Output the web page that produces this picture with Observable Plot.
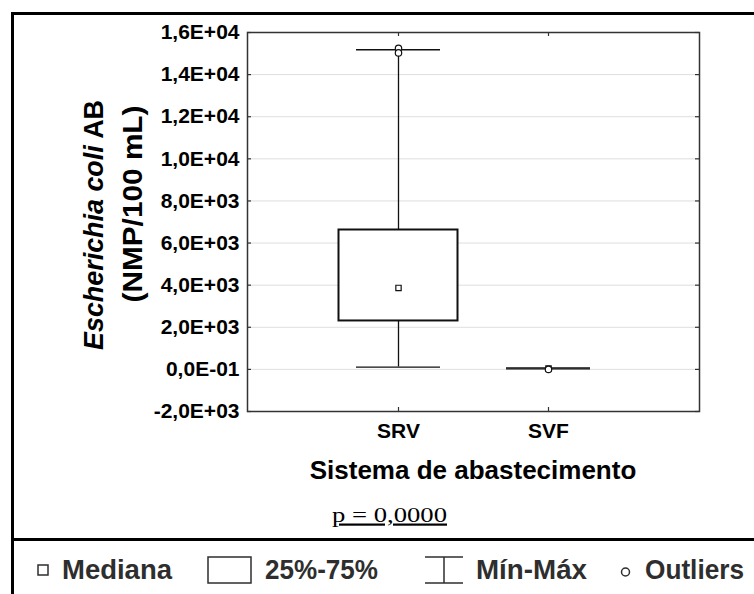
<!DOCTYPE html>
<html>
<head>
<meta charset="utf-8">
<script src="https://cdn.jsdelivr.net/npm/d3@7"></script>
<script src="https://cdn.jsdelivr.net/npm/@observablehq/plot@0.6"></script>
<style>
  html, body { margin: 0; padding: 0; background: #fff; }
  #chart { position: relative; width: 754px; height: 594px; overflow: hidden;
           font-family: "Liberation Sans", Arial, sans-serif; }
  #chart svg { position: absolute; left: 0; }
  .rule { position: absolute; background: #000; z-index: 2; }
</style>
</head>
<body>
<div id="chart">
  <div class="rule" style="left:11px;top:12px;width:743px;height:3px"></div>
  <div class="rule" style="left:11px;top:12px;width:3px;height:582px"></div>
  <div class="rule" style="left:11px;top:538px;width:743px;height:3px"></div>
</div>
<script>
// Water supply systems and the E. coli summary statistics (NMP/100 mL)
const systems   = ["SRV", "SVF"];
const minimum   = [110, 20];
const quartile1 = [2300, 40];
const median    = [3870, 40];
const quartile3 = [6620, 40];
const maximum   = [15180, 70];

// Outlying samples
const outlierSystem = ["SRV", "SRV", "SVF"];
const outlierValue  = [15250, 15030, 0];

// Y axis ticks and their printed labels
const yTicks      = [-2000, 0, 2000, 4000, 6000, 8000, 10000, 12000, 14000, 16000];
const yTickLabels = ["-2,0E+03", "0,0E-01", "2,0E+03", "4,0E+03", "6,0E+03",
                     "8,0E+03", "1,0E+04", "1,2E+04", "1,4E+04", "1,6E+04"];

const xTitle   = "Sistema de abastecimento";
const pCaption = "p = 0,0000";
const legendLabels = ["Mediana", "25%-75%", "Mín-Máx", "Outliers"];

const boxes = systems.map((s, i) => ({
  system: s, min: minimum[i], q1: quartile1[i], median: median[i], q3: quartile3[i], max: maximum[i]
}));
const outliers = outlierSystem.map((s, i) => ({system: s, value: outlierValue[i]}));

const W = 754, H = 536;
const mL = 247, mR = 55, mT = 32, mB = H - 411;
const frameW = W - mL - mR, frameH = H - mT - mB;
const tickLen = 4;
const font = '"Liberation Sans", Arial, sans-serif';

const plot = Plot.plot({
  width: W, height: H,
  marginLeft: mL, marginRight: mR, marginTop: mT, marginBottom: mB,
  style: {fontFamily: font, color: "#000", background: "transparent", overflow: "visible"},
  x: {type: "band", domain: systems, paddingInner: 0, paddingOuter: 0.5, label: null},
  y: {domain: [-2000, 16000], label: null},
  marks: [
    // light horizontal grid
    Plot.ruleY(yTicks.slice(1, -1), {stroke: "#dedede", strokeWidth: 1}),
    // inward tick marks on all four sides of the frame
    Plot.tickY(yTicks, {stroke: "#333", strokeWidth: 1.2, insetRight: frameW - tickLen}),
    Plot.tickY(yTicks, {stroke: "#333", strokeWidth: 1.2, insetLeft: frameW - tickLen}),
    Plot.tickX(systems, {x: d => d, stroke: "#333", strokeWidth: 1.2, insetTop: frameH - tickLen}),
    Plot.tickX(systems, {x: d => d, stroke: "#333", strokeWidth: 1.2, insetBottom: frameH - tickLen}),
    Plot.frame({stroke: "#333", strokeWidth: 1.5}),
    // whiskers (min–max) with caps
    Plot.ruleX(boxes, {x: "system", y1: "min", y2: "max", stroke: "#111", strokeWidth: 1.3}),
    Plot.tickY(boxes, {x: "system", y: "min", stroke: "#111", strokeWidth: 1.3, insetLeft: 33, insetRight: 33}),
    Plot.tickY(boxes, {x: "system", y: "max", stroke: "#111", strokeWidth: 1.3, insetLeft: 33, insetRight: 33}),
    // interquartile box
    Plot.barY(boxes.filter(d => d.q3 > d.q1), {
      x: "system", y1: "q1", y2: "q3", fill: "white", stroke: "#111", strokeWidth: 2,
      insetLeft: 15.5, insetRight: 15.5
    }),
    // median marker
    Plot.dot(boxes, {x: "system", y: "median", symbol: "square", r: 3, fill: "white", stroke: "#111", strokeWidth: 1.2}),
    // outliers
    Plot.dot(outliers, {x: "system", y: "value", symbol: "circle", r: 3.2, fill: "white", stroke: "#111", strokeWidth: 1.2}),
    // axes
    Plot.axisY(yTicks, {
      tickSize: 0, tickPadding: 8, fontSize: 21, fontWeight: "bold", label: null,
      tickFormat: d => yTickLabels[yTicks.indexOf(d)]
    }),
    Plot.axisX({tickSize: 0, tickPadding: 12, fontSize: 21, fontWeight: "bold", label: null})
  ]
});
plot.style.top = "0px";
document.getElementById("chart").appendChild(plot);

const svg = d3.select(plot);

// y axis title, two lines, with the species name in italics
const yTitle = svg.append("g").attr("font-family", font).attr("font-weight", "bold").attr("fill", "#000");
const line1 = yTitle.append("text")
  .attr("transform", "translate(103,225) rotate(-90)")
  .attr("text-anchor", "middle").attr("font-size", 27)
  .attr("textLength", 250).attr("lengthAdjust", "spacingAndGlyphs");
line1.append("tspan").attr("font-style", "italic").text("Escherichia coli");
line1.append("tspan").text(" AB");
yTitle.append("text")
  .attr("transform", "translate(141.5,204) rotate(-90)")
  .attr("text-anchor", "middle").attr("font-size", 28)
  .attr("textLength", 197).attr("lengthAdjust", "spacingAndGlyphs")
  .text("(NMP/100 mL)");

// x axis title
svg.append("text")
  .attr("x", mL + frameW / 2).attr("y", 479)
  .attr("text-anchor", "middle").attr("font-family", font).attr("font-weight", "bold")
  .attr("font-size", 26).attr("fill", "#000")
  .text(xTitle);

// significance caption
svg.append("text")
  .attr("x", 389.5).attr("y", 521.5)
  .attr("text-anchor", "middle")
  .attr("font-family", '"Liberation Serif", "Times New Roman", serif')
  .attr("font-size", 22).attr("fill", "#000")
  .attr("text-decoration", "underline")
  .attr("textLength", 115).attr("lengthAdjust", "spacingAndGlyphs")
  .text(pCaption);

// legend strip below the chart
const leg = d3.select("#chart").append("svg")
  .attr("width", 754).attr("height", 594)
  .style("top", "0px").style("pointer-events", "none");
const ink = "#2e2e2e";
leg.append("rect").attr("x", 38).attr("y", 565).attr("width", 10).attr("height", 10)
  .attr("fill", "white").attr("stroke", ink).attr("stroke-width", 1.5);
leg.append("rect").attr("x", 208).attr("y", 557).attr("width", 43).attr("height", 26)
  .attr("fill", "white").attr("stroke", ink).attr("stroke-width", 1.5);
const cap = leg.append("g").attr("stroke", ink).attr("stroke-width", 1.5);
cap.append("line").attr("x1", 425).attr("x2", 463).attr("y1", 557).attr("y2", 557);
cap.append("line").attr("x1", 425).attr("x2", 463).attr("y1", 583).attr("y2", 583);
cap.append("line").attr("x1", 444).attr("x2", 444).attr("y1", 557).attr("y2", 583);
leg.append("circle").attr("cx", 625.5).attr("cy", 572).attr("r", 4)
  .attr("fill", "white").attr("stroke", ink).attr("stroke-width", 1.5);
const legendText = [[62, 110], [265, 113], [476, 111], [645, 99]];
legendLabels.forEach((t, i) => {
  leg.append("text")
    .attr("x", legendText[i][0]).attr("y", 579)
    .attr("font-family", '"Liberation Sans Narrow", "Arial Narrow", "Liberation Sans", Arial, sans-serif')
    .attr("font-weight", "bold").attr("font-size", 27).attr("fill", ink)
    .attr("textLength", legendText[i][1]).attr("lengthAdjust", "spacingAndGlyphs")
    .text(t);
});
</script>
</body>
</html>
